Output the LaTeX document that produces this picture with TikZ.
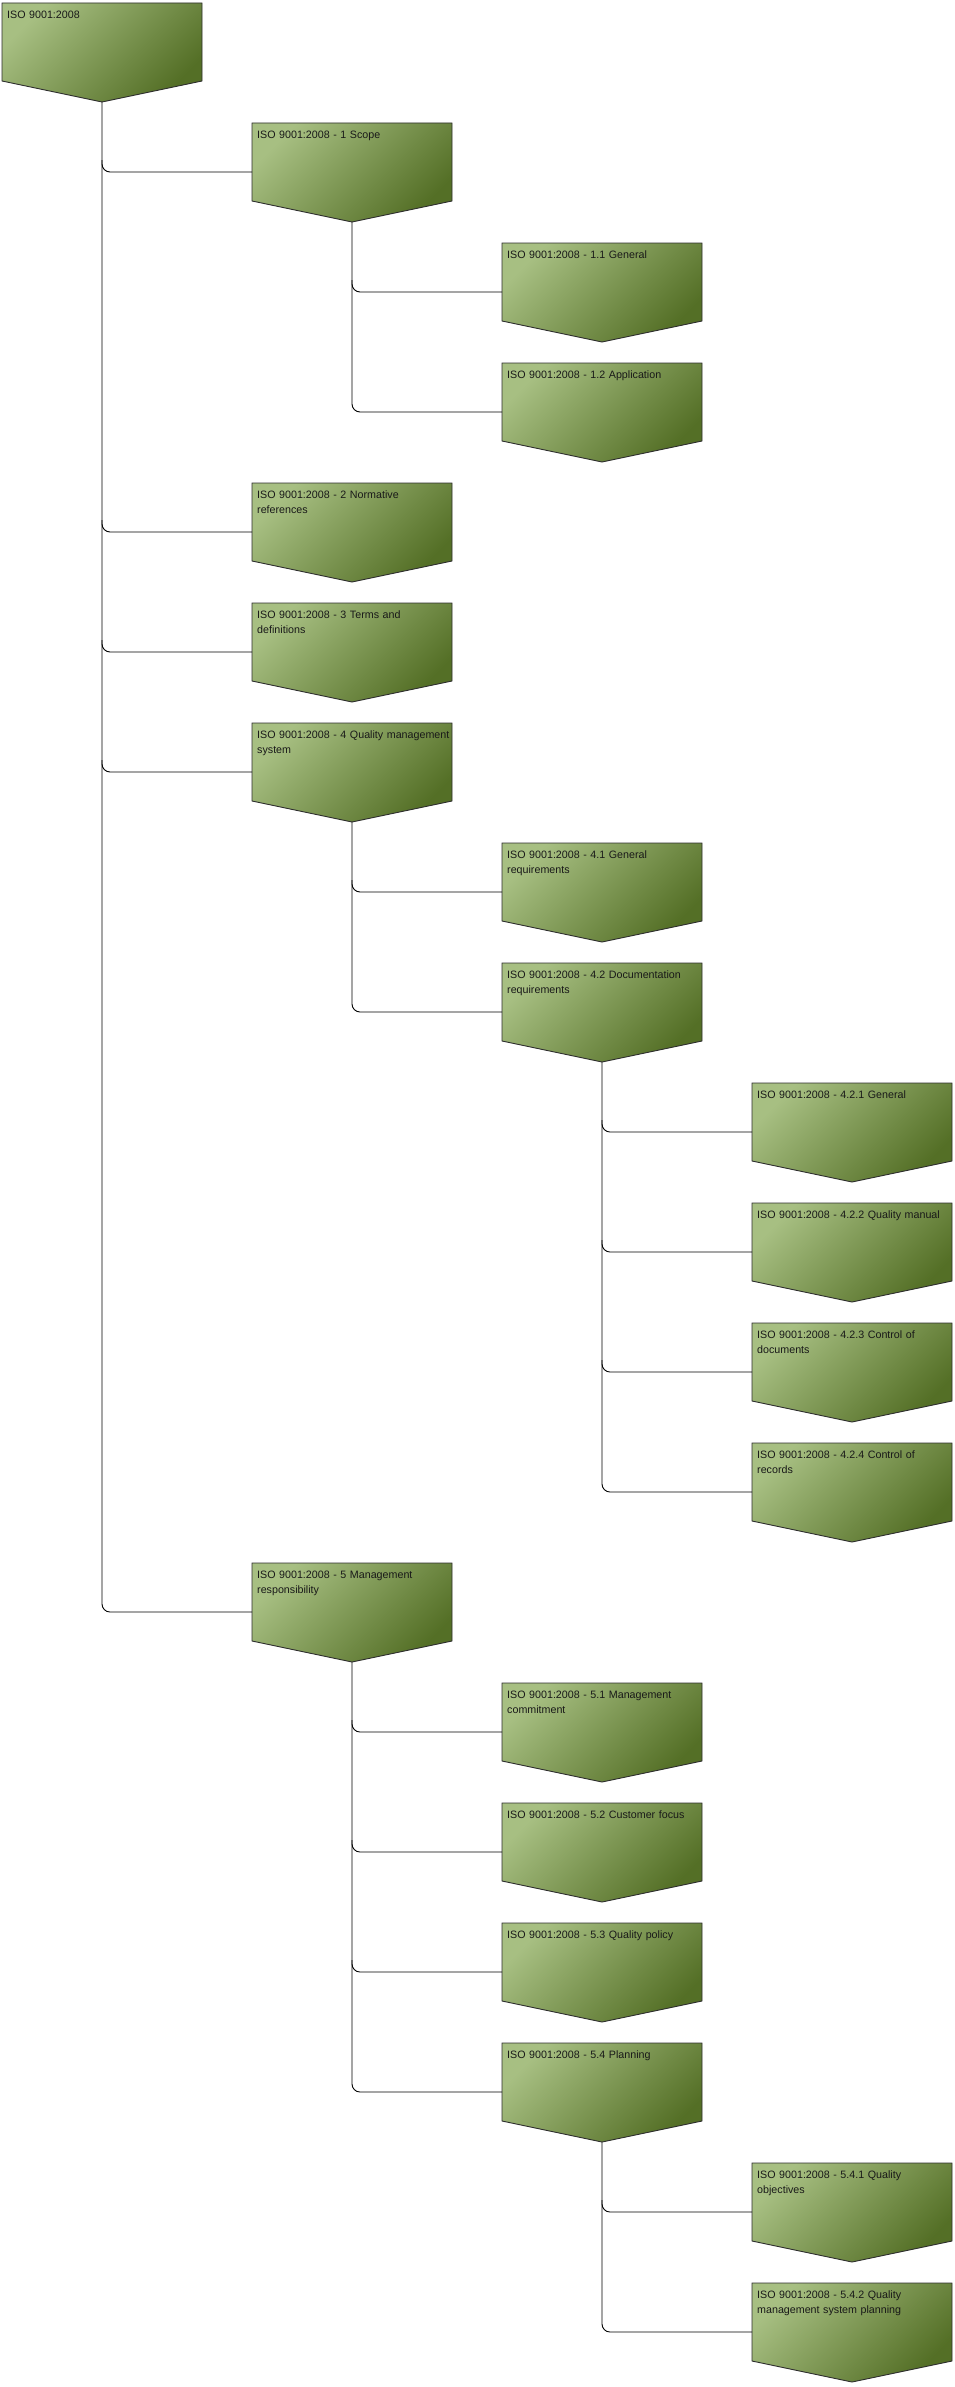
\documentclass[tikz,border=0pt]{standalone}
\usepackage{fontspec}
\usetikzlibrary{calc}
\setmainfont{Liberation Sans}
\definecolor{boxlight}{HTML}{A7BF82}
\definecolor{boxdark}{HTML}{546F26}
\definecolor{boxline}{HTML}{2E2E2E}
\tikzset{
  boxshape/.style={draw=boxline, line width=0.9pt, top color=boxlight, bottom color=boxdark, shading angle=45},
  boxtext/.style={anchor=north west, inner sep=0pt, text width=196pt, align=left,
    font=\fontsize{10.7}{14.7}\selectfont, text=black!90},
  conn/.style={draw=black, line width=0.9pt, rounded corners=8pt}
}
\newcommand\isobox[4]{%
  \path[boxshape] (#2,#3) -- ++(200,0) -- ++(0,78) -- ++(-100,21) -- ++(-100,-21) -- cycle;
  \node[boxtext] (#1) at (#2+5,#3+8) {#4};
  \coordinate (#1-tip) at (#2+100,#3+99);
  \coordinate (#1-in) at (#2,#3+49);
}
% branch from parenttip to child that is not the last one
\newcommand\branch[2]{\draw[conn] (#2-in) -| ($(#1-tip |- #2-in)+(0,-12)$);}
\newcommand\lastbranch[2]{\draw[conn] (#1-tip) |- (#2-in);}
\begin{document}
\begin{tikzpicture}[x=1pt,y=-1pt]
\useasboundingbox (0,0) rectangle (954,2387);
\isobox{root}{2}{3}{ISO 9001:2008}
\isobox{s1}{252}{123}{ISO 9001:2008 - 1 Scope}
\isobox{s11}{502}{243}{ISO 9001:2008 - 1.1 General}
\isobox{s12}{502}{363}{ISO 9001:2008 - 1.2 Application}
\isobox{s2}{252}{483}{ISO 9001:2008 - 2 Normative\\references}
\isobox{s3}{252}{603}{ISO 9001:2008 - 3 Terms and\\definitions}
\isobox{s4}{252}{723}{ISO 9001:2008 - 4 Quality management\\system}
\isobox{s41}{502}{843}{ISO 9001:2008 - 4.1 General\\requirements}
\isobox{s42}{502}{963}{ISO 9001:2008 - 4.2 Documentation\\requirements}
\isobox{s421}{752}{1083}{ISO 9001:2008 - 4.2.1 General}
\isobox{s422}{752}{1203}{ISO 9001:2008 - 4.2.2 Quality manual}
\isobox{s423}{752}{1323}{ISO 9001:2008 - 4.2.3 Control of\\documents}
\isobox{s424}{752}{1443}{ISO 9001:2008 - 4.2.4 Control of\\records}
\isobox{s5}{252}{1563}{ISO 9001:2008 - 5 Management\\responsibility}
\isobox{s51}{502}{1683}{ISO 9001:2008 - 5.1 Management\\commitment}
\isobox{s52}{502}{1803}{ISO 9001:2008 - 5.2 Customer focus}
\isobox{s53}{502}{1923}{ISO 9001:2008 - 5.3 Quality policy}
\isobox{s54}{502}{2043}{ISO 9001:2008 - 5.4 Planning}
\isobox{s541}{752}{2163}{ISO 9001:2008 - 5.4.1 Quality\\objectives}
\isobox{s542}{752}{2283}{ISO 9001:2008 - 5.4.2 Quality\\management system planning}
% connectors
\branch{root}{s1}
\branch{root}{s2}
\branch{root}{s3}
\branch{root}{s4}
\lastbranch{root}{s5}
\branch{s1}{s11}
\lastbranch{s1}{s12}
\branch{s4}{s41}
\lastbranch{s4}{s42}
\branch{s42}{s421}
\branch{s42}{s422}
\branch{s42}{s423}
\lastbranch{s42}{s424}
\branch{s5}{s51}
\branch{s5}{s52}
\branch{s5}{s53}
\lastbranch{s5}{s54}
\branch{s54}{s541}
\lastbranch{s54}{s542}
\end{tikzpicture}
\end{document}
